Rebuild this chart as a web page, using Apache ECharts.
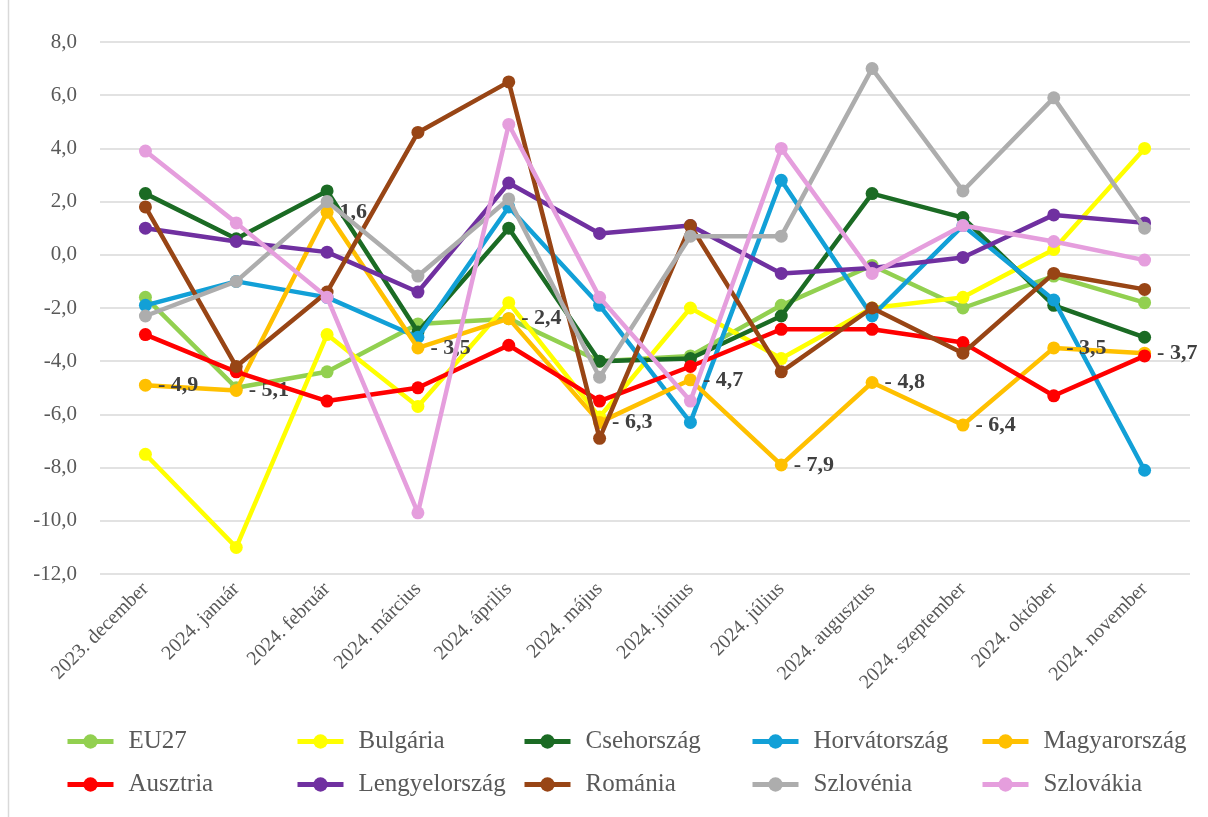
<!DOCTYPE html>
<html>
<head>
<meta charset="utf-8">
<script src="https://cdn.jsdelivr.net/npm/echarts@6/dist/echarts.min.js"></script>
<style>
html,body{margin:0;padding:0;background:#fff;}
#chart{width:1208px;height:817px;}
</style>
</head>
<body>
<div id="chart"></div>
<script>
const categories = ['2023. december','2024. január','2024. február','2024. március','2024. április','2024. május','2024. június','2024. július','2024. augusztus','2024. szeptember','2024. október','2024. november'];

const eu27          = [-1.6, -5.0, -4.4, -2.6, -2.4, -4.0, -3.8, -1.9, -0.4, -2.0, -0.8, -1.8];
const bulgaria      = [-7.5, -11.0, -3.0, -5.7, -1.8, -6.1, -2.0, -3.9, -2.0, -1.6, 0.2, 4.0];
const csehorszag    = [2.3, 0.6, 2.4, -2.9, 1.0, -4.0, -3.9, -2.3, 2.3, 1.4, -1.9, -3.1];
const horvatorszag  = [-1.9, -1.0, -1.6, -3.1, 1.8, -1.9, -6.3, 2.8, -2.3, 1.1, -1.7, -8.1];
const magyarorszag  = [-4.9, -5.1, 1.6, -3.5, -2.4, -6.3, -4.7, -7.9, -4.8, -6.4, -3.5, -3.7];
const ausztria      = [-3.0, -4.4, -5.5, -5.0, -3.4, -5.5, -4.2, -2.8, -2.8, -3.3, -5.3, -3.8];
const lengyelorszag = [1.0, 0.5, 0.1, -1.4, 2.7, 0.8, 1.1, -0.7, -0.5, -0.1, 1.5, 1.2];
const romania       = [1.8, -4.2, -1.4, 4.6, 6.5, -6.9, 1.1, -4.4, -2.0, -3.7, -0.7, -1.3];
const szlovenia     = [-2.3, -1.0, 2.0, -0.8, 2.1, -4.6, 0.7, 0.7, 7.0, 2.4, 5.9, 1.0];
const szlovakia     = [3.9, 1.2, -1.6, -9.7, 4.9, -1.6, -5.5, 4.0, -0.7, 1.1, 0.5, -0.2];

const seriesNames = ['EU27','Bulgária','Csehország','Horvátország','Magyarország','Ausztria','Lengyelország','Románia','Szlovénia','Szlovákia'];
const seriesData  = [eu27, bulgaria, csehorszag, horvatorszag, magyarorszag, ausztria, lengyelorszag, romania, szlovenia, szlovakia];
const seriesColors = ['#92D050','#FFFF00','#1B6B24','#12A0D7','#FFC000','#FF0000','#7030A0','#984515','#ADADAD','#E59EDD'];
const labeledSeries = 'Magyarország';

const yTicks = { min: -12, max: 8, interval: 2 };

const FONT = "'Palatino Linotype','Book Antiqua',Palatino,'Liberation Serif',serif";

function huNum(v){
  const s = Math.abs(v).toFixed(1).replace('.', ',');
  return v < 0 ? '- ' + s : s;
}

const legendCols = [65, 295, 522, 750, 980];
const legendRows = [729, 772];
const legends = seriesNames.map((n, i) => ({
  data: [n],
  left: legendCols[i % 5],
  top: legendRows[Math.floor(i / 5)],
  padding: 0,
  itemWidth: 46,
  itemHeight: 18,
  lineStyle: { width: 5 },
  textStyle: { fontFamily: FONT, fontSize: 25, color: '#595959', padding: [0,0,0,10] }
}));

const series = seriesNames.map((n, i) => ({
  name: n,
  type: 'line',
  data: seriesData[i],
  color: seriesColors[i],
  symbol: 'circle',
  symbolSize: 13,
  lineStyle: { width: 4.5, color: seriesColors[i] },
  itemStyle: { color: seriesColors[i] },
  emphasis: { disabled: true },
  animation: false,
  z: 2 + i,
  label: n === labeledSeries ? {
    show: true,
    position: 'right',
    distance: 6,
    fontFamily: FONT,
    fontSize: 22,
    fontWeight: 'bold',
    color: '#404040',
    formatter: p => huNum(p.value)
  } : { show: false }
}));

const chart = echarts.init(document.getElementById('chart'), null, { renderer: 'canvas' });
chart.setOption({
  backgroundColor: '#ffffff',
  animation: false,
  grid: { left: 100, right: 18, top: 42, bottom: 243, containLabel: false },
  legend: legends,
  xAxis: {
    type: 'category',
    data: categories,
    boundaryGap: true,
    axisLine: { show: false },
    axisTick: { show: false },
    axisLabel: { rotate: 45, margin: 12, fontFamily: FONT, fontSize: 20, color: '#595959', interval: 0 }
  },
  yAxis: {
    type: 'value',
    min: yTicks.min, max: yTicks.max, interval: yTicks.interval,
    axisLine: { show: false },
    axisTick: { show: false },
    splitLine: { lineStyle: { color: '#D9D9D9', width: 1.5 } },
    axisLabel: { margin: 23, fontFamily: FONT, fontSize: 21, color: '#595959', formatter: v => v.toFixed(1).replace('.', ',') }
  },
  graphic: [{
    type: 'line', shape: { x1: 8.5, y1: 0, x2: 8.5, y2: 817 },
    style: { stroke: '#D9D9D9', lineWidth: 1.5 }, silent: true
  }],
  series: series
});
</script>
</body>
</html>
